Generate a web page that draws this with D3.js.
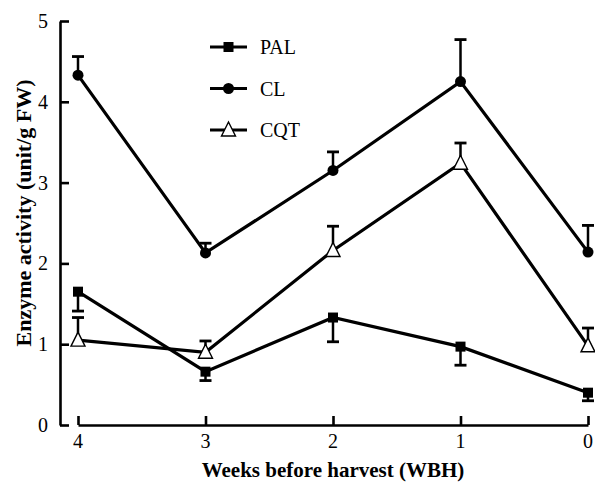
<!DOCTYPE html>
<html>
<head>
<meta charset="utf-8">
<script src="https://cdn.jsdelivr.net/npm/d3@7"></script>
<style>
  body { margin: 0; background: #fff; }
  text { font-family: "Liberation Serif", "Times New Roman", serif; }
</style>
</head>
<body>
<svg width="595" height="485"></svg>
<script>
// datos
const weeks = [4, 3, 2, 1, 0];
const palValues = [1.65, 0.66, 1.33, 0.97, 0.40];
const palErr = [0.24, 0.11, 0.30, 0.23, 0.10];   // barras hacia abajo
const clValues = [4.33, 2.13, 3.15, 4.25, 2.14];
const clErr = [0.23, 0.12, 0.23, 0.52, 0.33];    // hacia arriba
const cqtValues = [1.05, 0.90, 2.16, 3.24, 0.98];
const cqtErr = [0.28, 0.14, 0.30, 0.25, 0.22];   // hacia arriba
const yTicks = [0, 1, 2, 3, 4, 5];
const seriesNames = ["PAL", "CL", "CQT"];

const svg = d3.select("svg");

const xScale = d3.scaleLinear().domain([4, 0]).range([78, 588]);
const yScale = d3.scaleLinear().domain([0, 5]).range([425, 21]);

const series = [
  { name: "PAL", values: palValues, err: palErr, dir: -1, marker: "square" },
  { name: "CL", values: clValues, err: clErr, dir: 1, marker: "circle" },
  { name: "CQT", values: cqtValues, err: cqtErr, dir: 1, marker: "triangle" }
];

// eje y (ticks hacia adentro)
const yAxis = svg.append("g")
  .attr("transform", "translate(60,0)")
  .call(d3.axisRight(yScale).tickValues(yTicks).tickSize(9).tickSizeOuter(0).tickFormat(""));
yAxis.select(".domain").attr("stroke-width", 2.6);
yAxis.selectAll(".tick line").attr("stroke-width", 2.6);

svg.append("g").selectAll("text")
  .data(yTicks)
  .join("text")
  .attr("x", 48)
  .attr("y", d => yScale(d) + 7)
  .attr("text-anchor", "end")
  .attr("font-size", 20)
  .text(d => d);

// eje x (separado del eje y)
const xAxis = svg.append("g")
  .attr("transform", "translate(0,425)")
  .call(d3.axisTop(xScale).tickValues(weeks).tickSize(9).tickSizeOuter(0).tickFormat(""));
xAxis.select(".domain").attr("stroke-width", 2.6);
xAxis.selectAll(".tick line").attr("stroke-width", 2.6);

svg.append("g").selectAll("text")
  .data(weeks)
  .join("text")
  .attr("x", d => xScale(d))
  .attr("y", 448)
  .attr("text-anchor", "middle")
  .attr("font-size", 20)
  .text(d => d);

// titulos de ejes
svg.append("text")
  .attr("x", 333)
  .attr("y", 477)
  .attr("text-anchor", "middle")
  .attr("font-size", 21)
  .attr("font-weight", "bold")
  .text("Weeks before harvest (WBH)");

svg.append("text")
  .attr("transform", "translate(31,213) rotate(-90)")
  .attr("text-anchor", "middle")
  .attr("font-size", 22)
  .attr("font-weight", "bold")
  .text("Enzyme activity (unit/g FW)");

const line = d3.line()
  .x((d, i) => xScale(weeks[i]))
  .y(d => yScale(d));

function drawMarker(sel, type) {
  if (type === "square") {
    sel.append("rect").attr("x", -5).attr("y", -5).attr("width", 10).attr("height", 10).attr("fill", "#000");
  } else if (type === "circle") {
    sel.append("circle").attr("r", 5.5).attr("fill", "#000");
  } else {
    sel.append("path").attr("d", "M0,-8L7,6L-7,6Z").attr("fill", "#fff").attr("stroke", "#000").attr("stroke-width", 1.4);
  }
}

series.forEach(s => {
  const g = svg.append("g");
  // barras de error
  s.values.forEach((v, i) => {
    const x = xScale(weeks[i]);
    const yEnd = yScale(v + s.dir * s.err[i]);
    g.append("line")
      .attr("x1", x).attr("x2", x)
      .attr("y1", yScale(v)).attr("y2", yEnd)
      .attr("stroke", "#000").attr("stroke-width", 2.5);
    g.append("line")
      .attr("x1", x - 6).attr("x2", x + 6)
      .attr("y1", yEnd).attr("y2", yEnd)
      .attr("stroke", "#000").attr("stroke-width", 2.8);
  });
  g.append("path")
    .datum(s.values)
    .attr("d", line)
    .attr("fill", "none")
    .attr("stroke", "#000")
    .attr("stroke-width", 3.2);
});

// marcadores encima
series.forEach(s => {
  svg.append("g").selectAll("g")
    .data(s.values)
    .join("g")
    .attr("transform", (d, i) => `translate(${xScale(weeks[i])},${yScale(d)})`)
    .each(function() { drawMarker(d3.select(this), s.marker); });
});

// leyenda
const legend = svg.append("g");
seriesNames.forEach((name, i) => {
  const s = series.find(d => d.name === name);
  const y = 47 + i * 41.5;
  legend.append("line")
    .attr("x1", 210).attr("x2", 247)
    .attr("y1", y).attr("y2", y)
    .attr("stroke", "#000").attr("stroke-width", 3);
  const m = legend.append("g").attr("transform", `translate(228.5,${y})`);
  drawMarker(m, s.marker);
  legend.append("text")
    .attr("x", 260)
    .attr("y", y + 7)
    .attr("font-size", 20)
    .text(name);
});
</script>
</body>
</html>
